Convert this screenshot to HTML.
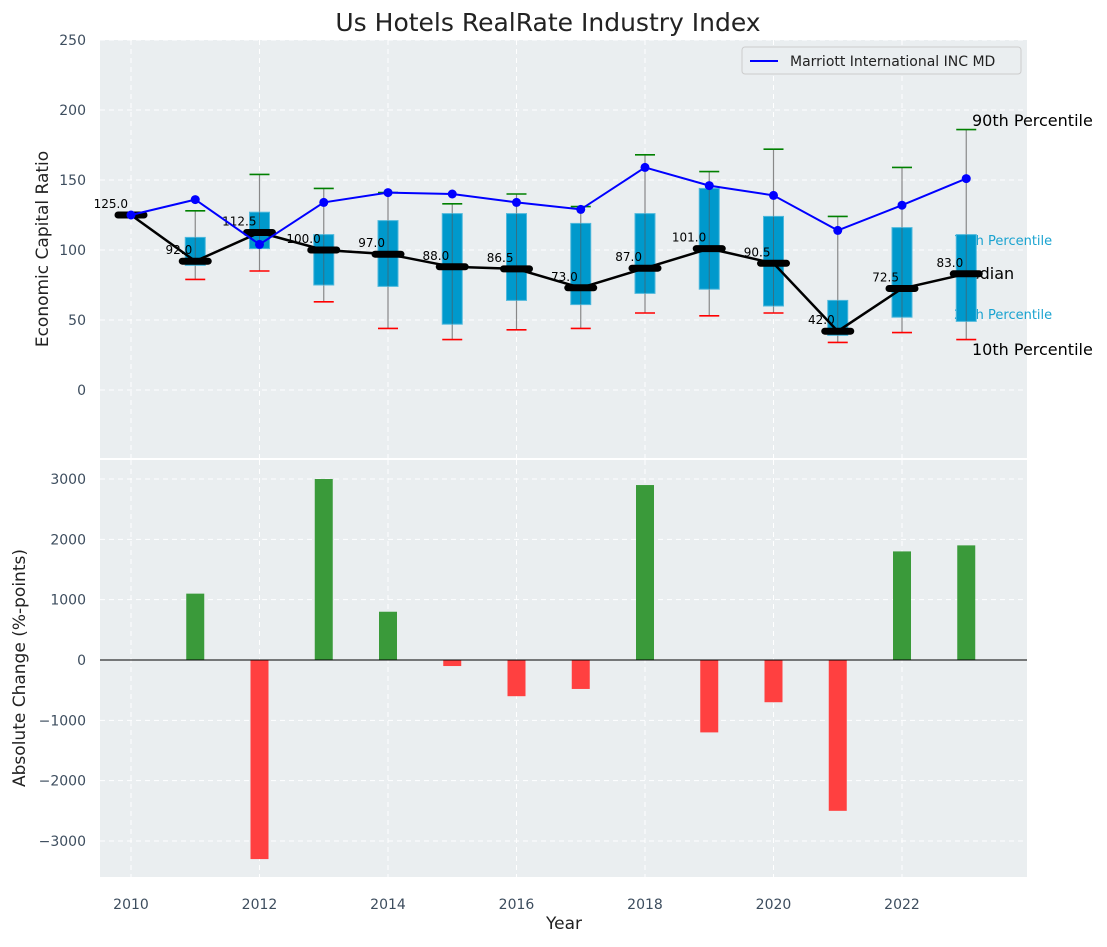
<!DOCTYPE html>
<html><head><meta charset="utf-8"><style>
body{margin:0;background:#fff;}
svg text{font-family:"DejaVu Sans","Liberation Sans",sans-serif;}
</style></head><body>
<svg id="c" width="1107" height="942" xmlns="http://www.w3.org/2000/svg">
<rect x="100" y="40" width="927" height="418" fill="#eaeef0"/>
<rect x="100" y="460" width="927" height="417" fill="#eaeef0"/>
<text x="548" y="31" font-size="25" text-anchor="middle" fill="#222">Us Hotels RealRate Industry Index</text>
<text transform="translate(48,249) rotate(-90)" font-size="17" text-anchor="middle" fill="#222">Economic Capital Ratio</text>
<text transform="translate(25,668) rotate(-90)" font-size="17" text-anchor="middle" fill="#222">Absolute Change (%-points)</text>
<text x="564" y="929" font-size="17" text-anchor="middle" fill="#222">Year</text>
<g id="g"></g>
</svg>
<script>
const years=[2010,2011,2012,2013,2014,2015,2016,2017,2018,2019,2020,2021,2022,2023];
const medians=[125,92,112.5,100,97,88,86.5,73,87,101,90.5,42,72.5,83];
const q1=[null,89,101,75,74,47,64,61,69,72,60,39,52,49];
const q3=[null,109,127,111,121,126,126,119,126,144,124,64,116,111];
const p10=[null,79,85,63,44,36,43,44,55,53,55,34,41,36];
const p90=[null,128,154,144,141,133,140,131,168,156,172,124,159,186];
const marriott=[125,136,104,134,141,140,134,129,159,146,139,114,132,151];
const changes=[0,1100,-3300,3000,800,-100,-600,-480,2900,-1200,-700,-2500,1800,1900];
const topTicks=[0,50,100,150,200,250];
const botTicks=[-3000,-2000,-1000,0,1000,2000,3000];
const xTicks=[2010,2012,2014,2016,2018,2020,2022];

const NS='http://www.w3.org/2000/svg';
const G=document.getElementById('g');
const X=v=>131+(v-2010)*64.25;
const YT=v=>390-v*1.4;
const YB=v=>660-v*0.06033;
function mk(t,a,p){const e=document.createElementNS(NS,t);for(const k in a)e.setAttribute(k,a[k]);(p||G).appendChild(e);return e;}

xTicks.forEach(t=>{
  const g1=mk('line',{x1:X(t),x2:X(t),y1:40,y2:458,stroke:'#fff','stroke-dasharray':'5,4','stroke-width':1});
  
  
  const g2=mk('line',{x1:X(t),x2:X(t),y1:460,y2:877,stroke:'#fff','stroke-dasharray':'5,4','stroke-width':1});
  
  
  const l=mk('text',{x:X(t),y:909,'font-size':14,'text-anchor':'middle',fill:'#3d4d5e'});
  l.textContent=t;
  
  
});
topTicks.forEach(t=>{
  const g1=mk('line',{x1:100,x2:1027,y1:YT(t),y2:YT(t),stroke:'#fff','stroke-dasharray':'5,4','stroke-width':1});
  
  
  const l=mk('text',{x:86,y:YT(t)+5,'font-size':14,'text-anchor':'end',fill:'#3d4d5e'});
  l.textContent=t;
  
  
});
botTicks.forEach(t=>{
  const g1=mk('line',{x1:100,x2:1027,y1:YB(t),y2:YB(t),stroke:'#fff','stroke-dasharray':'5,4','stroke-width':1});
  
  
  const l=mk('text',{x:86,y:YB(t)+5,'font-size':14,'text-anchor':'end',fill:'#3d4d5e'});
  l.textContent=(t<0?'\u2212'+(-t):t);
  
  
});

[['90th Percentile',972,126,16,'#000'],['75th Percentile',954,245,13,'#1aa3d0'],['Median',956,279,16,'#000'],['25th Percentile',954,319,13,'#1aa3d0'],['10th Percentile',972,355,16,'#000']].forEach(a=>{
  const t=mk('text',{x:a[1],y:a[2],'font-size':a[3],fill:a[4]});
  t.textContent=a[0];
  
  
});

years.forEach((y,i)=>{
  if(p10[i]==null)return;
  const x=X(y);
  const w=mk('line',{x1:x,x2:x,y1:YT(p90[i]),y2:YT(p10[i]),stroke:'#888','stroke-width':1.2});
  
  
  const b=mk('rect',{x:x-10,y:YT(q3[i]),width:20,height:YT(q1[i])-YT(q3[i]),fill:'#0099cc',stroke:'#4fb8dc','stroke-width':1});
  
  
  const w2=mk('line',{x1:x,x2:x,y1:YT(q3[i]),y2:YT(q1[i]),stroke:'#555','stroke-width':1,opacity:0.6});
  
  
  const c1=mk('line',{x1:x-10,x2:x+10,y1:YT(p90[i]),y2:YT(p90[i]),stroke:'#008000','stroke-width':1.6});
  
  
  const c2=mk('line',{x1:x-10,x2:x+10,y1:YT(p10[i]),y2:YT(p10[i]),stroke:'#ff0000','stroke-width':1.6});
  
  
});

const mp=mk('polyline',{points:years.map((y,i)=>X(y)+','+YT(medians[i])).join(' '),fill:'none',stroke:'#000','stroke-width':2.5});


years.forEach((y,i)=>{
  const x=X(y);
  const m=mk('line',{x1:x-13,x2:x+13,y1:YT(medians[i]),y2:YT(medians[i]),stroke:'#000','stroke-width':7,'stroke-linecap':'round'});
  
  
  const t=mk('text',{x:x-3,y:YT(medians[i])-7,'font-size':12,'text-anchor':'end',fill:'#000'});
  t.textContent=medians[i].toFixed(1);
  
  
});

const ml=mk('polyline',{points:years.map((y,i)=>X(y)+','+YT(marriott[i])).join(' '),fill:'none',stroke:'#0000ff','stroke-width':2});


years.forEach((y,i)=>{
  const c=mk('circle',{cx:X(y),cy:YT(marriott[i]),r:4.5,fill:'#0000ff'});
  
  
});

const lg=mk('g',{});


mk('rect',{x:742,y:47,width:279,height:27,rx:3,fill:'#eaeef0',stroke:'#ccc'},lg);
mk('line',{x1:750,x2:778,y1:61,y2:61,stroke:'#0000ff','stroke-width':2},lg);
const lt=mk('text',{x:790,y:66,'font-size':14,fill:'#222'},lg);
lt.textContent='Marriott International INC MD';



years.forEach((y,i)=>{
  const v=changes[i];
  if(v===0)return;
  const y0=YB(Math.max(v,0)),h=Math.abs(YB(v)-YB(0));
  const r=mk('rect',{x:X(y)-9,y:y0,width:18,height:h,fill:v>0?'#3a9a3a':'#ff4040'});
  
  
});
const z=mk('line',{x1:100,x2:1027,y1:YB(0),y2:YB(0),stroke:'#000','stroke-width':1});


</script>
</body></html>
